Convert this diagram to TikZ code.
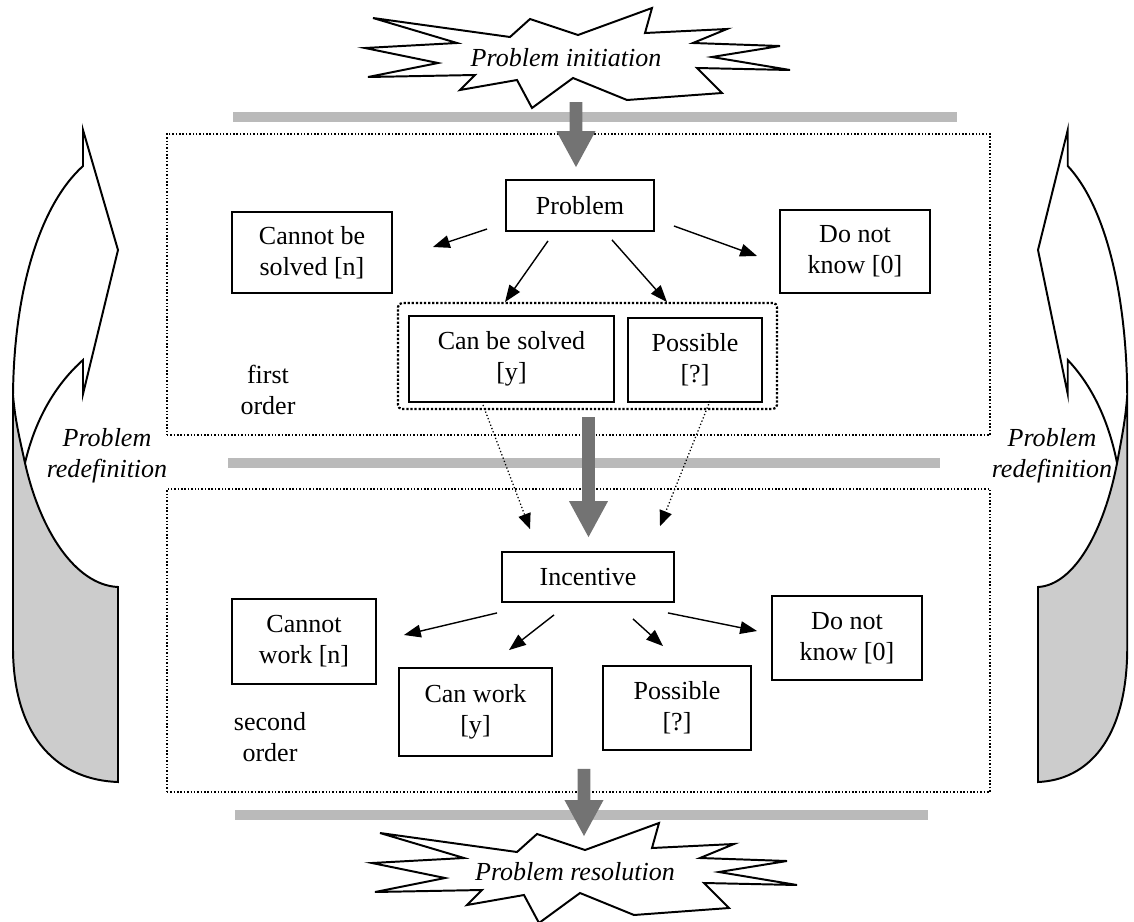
\documentclass[tikz,border=0pt]{standalone}
\usepackage{fontspec}
\setmainfont{Liberation Serif}
\usepackage{tikz}
\usetikzlibrary{arrows.meta,calc}

\tikzset{
  box/.style={draw, line width=1.3pt, inner sep=0pt, align=center,
    font=\fontsize{18.5}{22}\selectfont},
  area/.style={draw, line width=1.1pt, dash pattern=on 1.1pt off 1.3pt, inner sep=0pt},
  grpbox/.style={draw, line width=1.6pt, dash pattern=on 1.6pt off 1.3pt,
    rounded corners=3pt, inner sep=0pt},
  arr/.style={line width=1pt, -{Triangle[length=12pt,width=9pt]}},
  dotarr/.style={line width=0.9pt, dash pattern=on 0.9pt off 1.6pt,
    -{Triangle[length=11pt,width=9pt]}},
  bar/.style={fill=black!27},
  fat/.style={fill=black!55},
  burstline/.style={draw, fill=white, line width=1.4pt},
  side/.style={draw, line width=1.4pt, fill=black!20},
  lbl/.style={align=center, font=\fontsize{18.5}{22}\selectfont},
  ilbl/.style={align=center, font=\fontsize{18.5}{22}\selectfont\itshape}
}

% grey arrow pointing down, x taken from the first point
\newcommand{\fatarrow}[2]{%
  \fill[fat] let \p1=(#1), \p2=(#2) in
    (\x1-4.6pt,\y1) -- (\x1+4.6pt,\y1) -- (\x1+4.6pt,\y2+25.6pt)
    -- (\x1+13.9pt,\y2+25.6pt) -- (\x1,\y2) -- (\x1-13.9pt,\y2+25.6pt)
    -- (\x1-4.6pt,\y2+25.6pt) -- cycle;}

\def\burst{(-193,-40) -- (-56,-21) -- (-36,-39) -- (12,-23) -- (86,-50)
  -- (79,-25) -- (161,-29) -- (127,-15) -- (214,-12) -- (146,-1)
  -- (224,12) -- (131,10) -- (156,35) -- (61,42) -- (7,20) -- (-34,50)
  -- (-49,22) -- (-106,32) -- (-91,17) -- (-198,19) -- (-128,5)
  -- (-201,-10) -- (-109,-15) -- cycle}

\def\sideback{(118,782) -- (118,587) .. controls (75,585) and (40,530) .. (25,463)
  .. controls (20,440) and (15,420) .. (13,395) -- (13,650)
  .. controls (14,740) and (60,780) .. (118,782) -- cycle}
\def\sidefront{(25,463) .. controls (35,420) and (55,385) .. (83,360)
  -- (83,394) -- (118,250) -- (83,130) -- (83,166)
  .. controls (40,205) and (14,290) .. (13,395)}

\begin{document}
\begin{tikzpicture}[x=0.025cm, y=-0.025cm]
\useasboundingbox (0,0) rectangle (1134,922);

% side arrows
\draw[side] \sideback;
\draw[line width=1.4pt] \sidefront;
\begin{scope}[shift={(1138.3,0)}, xscale=-0.85]
\draw[side] \sideback;
\draw[line width=1.4pt] \sidefront;
\end{scope}
\node[ilbl] (redefl) at (107,456) {Problem\\redefinition};
\node[ilbl] (redefr) at (1052,456) {Problem\\redefinition};

% bars
\fill[bar] (233,112) rectangle (957,122);
\fill[bar] (228,458) rectangle (940,468);
\fill[bar] (235,810) rectangle (928,820);

% start and end
\draw[burstline, shift={(566,58)}] \burst;
\node[ilbl] (init) at (566,58) {Problem initiation};
\draw[burstline, shift={(573,873)}] \burst;
\node[ilbl] (res) at (575,872) {Problem resolution};

% the two orders
\node[area, minimum width=20.575cm, minimum height=7.525cm] (order1) at (578.5,284.5) {};
\node[area, minimum width=20.575cm, minimum height=7.575cm] (order2) at (578.5,640.5) {};
\node[grpbox, minimum width=9.475cm, minimum height=2.65cm] (grp) at (587.5,356) {};

\node[box, minimum width=3.7cm, minimum height=1.275cm] (prob) at (580,205.5) {Problem};
\node[box, minimum width=4cm, minimum height=2.025cm] (cannot) at (312,252.5) {Cannot be\\solved [n]};
\node[box, minimum width=3.75cm, minimum height=2.075cm] (dk1) at (855,251.5) {Do not\\know [0]};
\node[box, minimum width=5.125cm, minimum height=2.15cm] (canbe) at (511.5,359) {Can be solved\\{[y]}};
\node[box, minimum width=3.35cm, minimum height=2.1cm] (poss1) at (695,360) {Possible\\{[?]}};
\node[lbl] (first) at (268,390) {first\\order};

\node[box, minimum width=4.3cm, minimum height=1.25cm] (inc) at (588,577) {Incentive};
\node[box, minimum width=3.6cm, minimum height=2.125cm] (cw) at (304,641.5) {Cannot\\work [n]};
\node[box, minimum width=3.825cm, minimum height=2.2cm] (canw) at (475.5,712) {Can work\\{[y]}};
\node[box, minimum width=3.7cm, minimum height=2.1cm] (poss2) at (677,708) {Possible\\{[?]}};
\node[box, minimum width=3.75cm, minimum height=2.1cm] (dk2) at (847,638) {Do not\\know [0]};
\node[lbl] (second) at (270,737) {second\\order};

% big grey arrows
\fatarrow{$(init.center)+(10,44)$}{$(prob.north)+(-4,-12)$}
\fatarrow{$(grp.south)+(1,7)$}{$(inc.north)+(0,-14)$}
\fatarrow{$(order2.south)+(5.5,-24)$}{$(res.center)+(11,-36)$}

% first order
\draw[arr] ([shift={(-18,23.5)}]prob.west) -- ([shift={(40,-5.5)}]cannot.east);
\draw[arr] ([shift={(-32,9)}]prob.south) -- ([shift={(-6.5,-13)}]canbe.north);
\draw[arr] ([shift={(32,8)}]prob.south) -- ([shift={(-28,-15)}]poss1.north);
\draw[arr] ([shift={(19,20.5)}]prob.east) -- ([shift={(-22,4.5)}]dk1.west);

% into second order
\draw[dotarr] ([shift={(-28.5,2)}]canbe.south) -- ([shift={(-58,-22)}]inc.north);
\draw[dotarr] ([shift={(15,-2)}]poss1.south) -- ([shift={(72,-25)}]inc.north);

% second order
\draw[arr] ([shift={(-4,10)}]inc.south west) -- ([shift={(27,-6.5)}]cw.east);
\draw[arr] ([shift={(-34,12)}]inc.south) -- ([shift={(33.5,-17)}]canw.north);
\draw[arr] ([shift={(45,16)}]inc.south) -- ([shift={(-14,-19)}]poss2.north);
\draw[arr] ([shift={(-7,10)}]inc.south east) -- ([shift={(-14,-7)}]dk2.west);

\end{tikzpicture}
\end{document}
